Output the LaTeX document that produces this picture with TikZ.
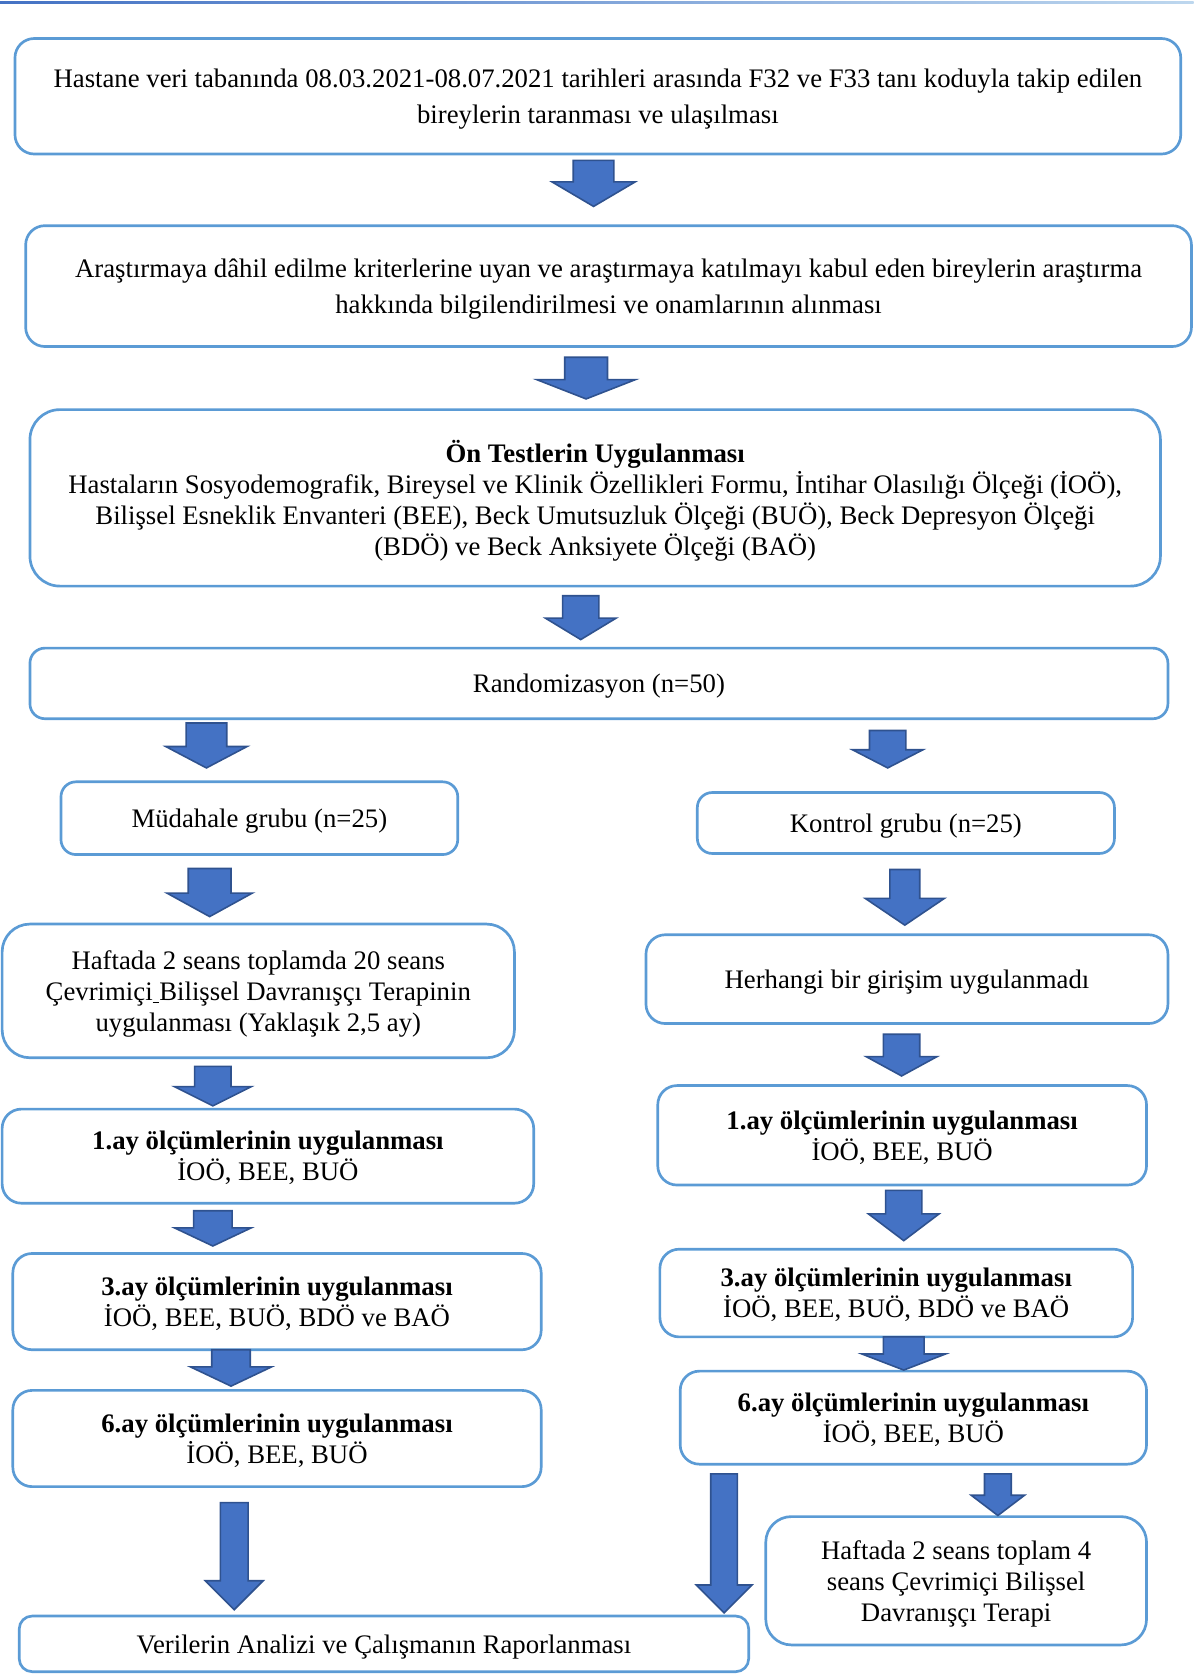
\documentclass[tikz,border=0pt]{standalone}
\usepackage{fontspec}
\setmainfont{Liberation Serif}
\begin{document}
\begin{tikzpicture}[x=1pt,y=-1pt,
  box/.style={draw=boxblue, line width=2.5pt, rounded corners=18pt, align=center, inner sep=0pt,
    text depth=0pt, font=\fontsize{25}{29}\selectfont},
  widebox/.style={box, font=\fontsize{25}{34}\selectfont},
  barrow/.style={fill=arrfill, draw=arrdraw, line width=1.5pt, line join=miter}]
\definecolor{boxblue}{HTML}{5B9BD5}
\definecolor{arrfill}{HTML}{4472C4}
\definecolor{arrdraw}{HTML}{2F528F}
\newcommand{\blockdown}[6]{\draw[barrow] (#1-#4,#2) -- (#1+#4,#2) -- (#1+#4,#6) -- (#1+#5,#6) -- (#1,#3) -- (#1-#5,#6) -- (#1-#4,#6) -- cycle;}
\useasboundingbox (0,0) rectangle (1116,1568);
\shade[left color=arrfill, right color=boxblue!40] (0,1) rectangle (1116,3);

\node[widebox, minimum width=1090pt, minimum height=108pt] (b1) at (559,90)
  {Hastane veri tabanında 08.03.2021-08.07.2021 tarihleri arasında F32 ve F33 tanı koduyla takip edilen\\ bireylerin taranması ve ulaşılması};
\node[widebox, minimum width=1090pt, minimum height=113pt] (b2) at (569,267.5)
  {Araştırmaya dâhil edilme kriterlerine uyan ve araştırmaya katılmayı kabul eden bireylerin araştırma\\ hakkında bilgilendirilmesi ve onamlarının alınması};
\node[box, rounded corners=28pt, minimum width=1057pt, minimum height=165pt] (b3) at (556.5,465.5)
  {\textbf{Ön Testlerin Uygulanması}\\ Hastaların Sosyodemografik, Bireysel ve Klinik Özellikleri Formu, İntihar Olasılığı Ölçeği (İOÖ),\\ Bilişsel Esneklik Envanteri (BEE), Beck Umutsuzluk Ölçeği (BUÖ), Beck Depresyon Ölçeği\\ (BDÖ) ve Beck Anksiyete Ölçeği (BAÖ)};
\node[box, rounded corners=14pt, minimum width=1064pt, minimum height=66pt] (b4) at (560,639) {Randomizasyon (n=50)};

\node[box, rounded corners=14pt, minimum width=371pt, minimum height=68pt] (l1) at (242.5,765) {Müdahale grubu (n=25)};
\node[box, rounded corners=14pt, minimum width=390pt, minimum height=57pt] (r1) at (847,769.5) {Kontrol grubu (n=25)};

\node[box, rounded corners=26pt, minimum width=479pt, minimum height=125pt] (l2) at (241.5,926.5)
  {Haftada 2 seans toplamda 20 seans\\ Çevrimiçi\underline{\hspace{0.25em}}Bilişsel Davranışçı Terapinin\\ uygulanması (Yaklaşık 2,5 ay)};
\node[box, minimum width=488pt, minimum height=83pt] (r2) at (848,915.5) {Herhangi bir girişim uygulanmadı};

\node[box, minimum width=497pt, minimum height=88pt] (l3) at (250.5,1081)
  {\textbf{1.ay ölçümlerinin uygulanması}\\ İOÖ, BEE, BUÖ};
\node[box, minimum width=457pt, minimum height=93pt] (r3) at (843.5,1061.5)
  {\textbf{1.ay ölçümlerinin uygulanması}\\ İOÖ, BEE, BUÖ};

\node[box, minimum width=494pt, minimum height=90pt] (l4) at (259,1217)
  {\textbf{3.ay ölçümlerinin uygulanması}\\ İOÖ, BEE, BUÖ, BDÖ ve BAÖ};
\node[box, minimum width=442pt, minimum height=82pt] (r4) at (838,1209)
  {\textbf{3.ay ölçümlerinin uygulanması}\\ İOÖ, BEE, BUÖ, BDÖ ve BAÖ};

\node[box, minimum width=494pt, minimum height=90pt] (l5) at (259,1345)
  {\textbf{6.ay ölçümlerinin uygulanması}\\ İOÖ, BEE, BUÖ};
\node[box, minimum width=436pt, minimum height=87pt] (r5) at (854,1325.5)
  {\textbf{6.ay ölçümlerinin uygulanması}\\ İOÖ, BEE, BUÖ};

\node[box, rounded corners=24pt, minimum width=356pt, minimum height=120pt] (r6) at (894,1478)
  {Haftada 2 seans toplam 4\\ seans Çevrimiçi Bilişsel\\ Davranışçı Terapi};
\node[box, rounded corners=12pt, minimum width=682pt, minimum height=52pt] (fin) at (359,1537)
  {Verilerin Analizi ve Çalışmanın Raporlanması};

\blockdown{555}{150}{193}{19}{39}{170}
\blockdown{548}{334}{373}{20}{46}{355}
\blockdown{543}{557}{598}{17}{33}{578}
\blockdown{193}{676}{718}{19}{38}{698}
\blockdown{830}{683}{718}{17}{33}{701}
\blockdown{196}{812}{857}{20}{40}{835}
\blockdown{846}{813}{865}{14}{37}{840}
\blockdown{199}{997}{1034}{17}{36}{1016}
\blockdown{843}{967}{1006}{17}{33}{988}
\blockdown{199}{1132}{1165}{18}{36}{1148}
\blockdown{845}{1113}{1160}{17}{33}{1135}
\blockdown{216}{1262}{1296}{18}{38}{1278}
\blockdown{845}{1250}{1281}{19}{39}{1266}
\blockdown{219}{1405}{1505}{13}{27}{1478}
\blockdown{677}{1378}{1508}{12.5}{26}{1482}
\blockdown{933}{1378}{1417}{12.5}{25}{1398}
\end{tikzpicture}
\end{document}
